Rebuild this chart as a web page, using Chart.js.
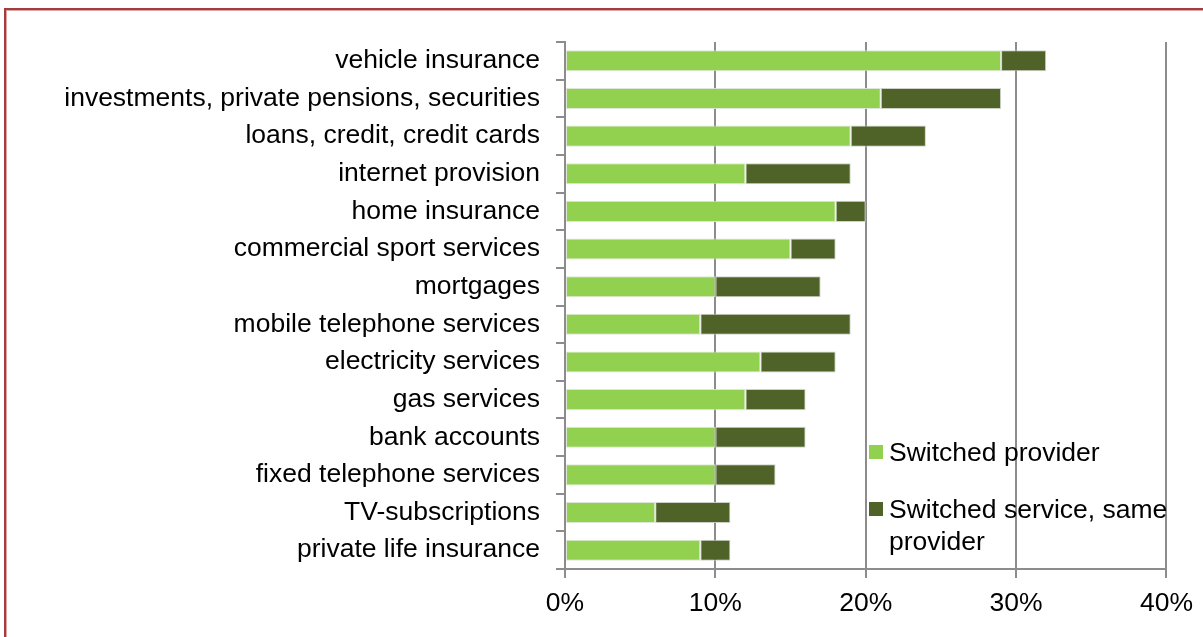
<!DOCTYPE html>
<html>
<head>
<meta charset="utf-8">
<script src="https://cdn.jsdelivr.net/npm/chart.js@4/dist/chart.umd.min.js"></script>
<style>
  body { margin: 0; background: #fff; }
  .wrap { position: relative; width: 1203px; height: 637px; overflow: hidden; font-family: "Liberation Sans", Arial, sans-serif; }
  .frame { position: absolute; left: 4px; top: 8px; width: 1400px; height: 800px; border: 2px solid #a23d3c; box-shadow: inset 0 0 0 1px #dba6a5; }
  canvas { position: absolute; left: 0; top: 0; }
  .legend { position: absolute; left: 869px; top: 436px; font-size: 26.5px; color: #000; line-height: 32px; }
  .legend .item { position: relative; padding-left: 20px; width: 300px; }
  .legend .item + .item { margin-top: 25px; }
  .legend .sw { position: absolute; left: 0; top: 9px; width: 14px; height: 14px; }
</style>
</head>
<body>
<div class="wrap">
  <div class="frame"></div>
  <canvas id="c" width="1203" height="637"></canvas>
  <div class="legend" id="legend"></div>
</div>
<script>
const categories = [
  'vehicle insurance',
  'investments, private pensions, securities',
  'loans, credit, credit cards',
  'internet provision',
  'home insurance',
  'commercial sport services',
  'mortgages',
  'mobile telephone services',
  'electricity services',
  'gas services',
  'bank accounts',
  'fixed telephone services',
  'TV-subscriptions',
  'private life insurance'
];
const switchedProvider = [29, 21, 19, 12, 18, 15, 10, 9, 13, 12, 10, 10, 6, 9];
const switchedService  = [3, 8, 5, 7, 2, 3, 7, 10, 5, 4, 6, 4, 5, 2];
const xTicks = [0, 10, 20, 30, 40];

const seriesNames = ['Switched provider', 'Switched service, same provider'];
const seriesColors = ['#92d050', '#4f6228'];

const font = { family: '"Liberation Sans", Arial, sans-serif', size: 26.5 };
const gridColor = '#8c8c8c';

new Chart(document.getElementById('c').getContext('2d'), {
  type: 'bar',
  data: {
    labels: categories,
    datasets: [
      { label: seriesNames[0], data: switchedProvider, backgroundColor: seriesColors[0], borderColor: 'rgba(220,230,210,0.9)', borderWidth: 1, borderSkipped: false, barPercentage: 0.56, categoryPercentage: 1 },
      { label: seriesNames[1], data: switchedService, backgroundColor: seriesColors[1], borderColor: 'rgba(200,205,195,0.9)', borderWidth: 1, borderSkipped: false, barPercentage: 0.56, categoryPercentage: 1 }
    ]
  },
  options: {
    indexAxis: 'y',
    responsive: false,
    animation: false,
    layout: { padding: { top: 42, right: 34, left: 0, bottom: 0 } },
    plugins: { legend: { display: false }, tooltip: { enabled: false } },
    scales: {
      x: {
        stacked: true,
        min: 0, max: 40,
        afterBuildTicks: (s) => { s.ticks = xTicks.map(v => ({ value: v })); },
        afterFit: (s) => { s.height = 68; },
        ticks: { font, color: '#000', padding: 10, callback: (v) => v + '%', maxRotation: 0 },
        grid: { color: gridColor, lineWidth: 2, tickLength: 9 },
        border: { color: gridColor, width: 2 }
      },
      y: {
        stacked: true,
        afterFit: (s) => { s.width = 565; },
        ticks: { font, color: '#000', padding: 16, autoSkip: false },
        grid: { color: gridColor, lineWidth: 2, tickLength: 9, drawOnChartArea: false, offset: true },
        border: { color: gridColor, width: 2 }
      }
    }
  }
});

// legend with wrapped second label, as in the source chart
const legendEl = document.getElementById('legend');
legendEl.innerHTML = seriesNames.map((n, i) =>
  `<div class="item"><span class="sw" style="background:${seriesColors[i]}"></span>${n}</div>`
).join('');
</script>
</body>
</html>
